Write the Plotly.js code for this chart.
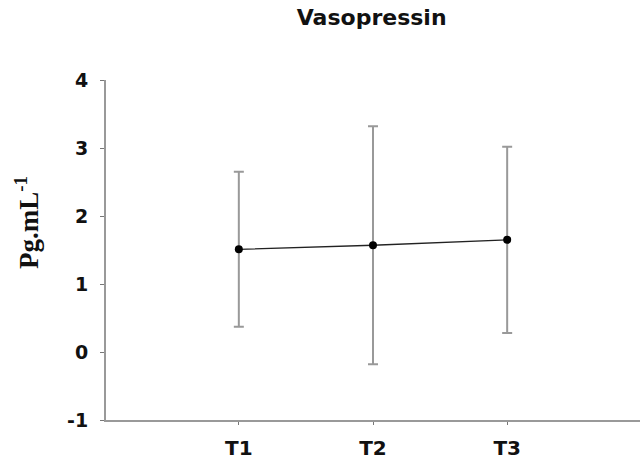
<!DOCTYPE html>
<html>
<head>
<meta charset="utf-8">
<script src="https://cdn.plot.ly/plotly-3.0.1.min.js"></script>
<style>html,body{margin:0;padding:0;background:#fff;}#chart{width:643px;height:461px;}</style>
</head>
<body>
<div id="chart"></div>
<script>
const categories = ["T1", "T2", "T3"];
const means = [1.51, 1.57, 1.65];
const errors = [1.14, 1.75, 1.37];
const yTicks = [-1, 0, 1, 2, 3, 4];
const yTickLabels = ["-1", "0", "1", "2", "3", "4"];

const trace = {
  x: [0, 1, 2],
  y: means,
  type: "scatter",
  mode: "lines+markers",
  line: {color: "#222", width: 1.3},
  marker: {color: "#000", size: 8},
  error_y: {type: "data", array: errors, visible: true, color: "#999", thickness: 2, width: 5},
  hoverinfo: "skip",
  showlegend: false
};

const layout = {
  width: 643, height: 461,
  margin: {l: 106, r: 3, t: 80, b: 41},
  paper_bgcolor: "#fff", plot_bgcolor: "#fff",
  title: {text: "Vasopressin", x: 0.578, xanchor: "center", y: 0.963, yanchor: "middle",
          font: {family: "DejaVu Sans", size: 22, color: "#111", weight: "bold"}},
  xaxis: {
    range: [-0.99, 2.99], tickvals: [0, 1, 2], ticktext: categories,
    showgrid: false, zeroline: false, showline: true, linecolor: "#999", linewidth: 2,
    ticks: "outside", ticklen: 3, tickcolor: "#777", tickwidth: 1, ticklabelstandoff: 6,
    tickfont: {family: "DejaVu Sans", size: 20, color: "#111", weight: "bold"}
  },
  yaxis: {
    range: [-1, 4], tickvals: yTicks, ticktext: yTickLabels,
    showgrid: false, zeroline: false, showline: true, linecolor: "#999", linewidth: 2,
    ticks: "outside", ticklen: 4, tickcolor: "#777", tickwidth: 1, ticklabelstandoff: 8,
    tickfont: {family: "DejaVu Sans", size: 19, color: "#111", weight: "bold"}
  },
  annotations: [{
    text: "Pg.mL<sup>-1</sup>", textangle: -90, showarrow: false,
    xref: "paper", yref: "paper", x: -0.148, y: 0.582, xanchor: "center", yanchor: "middle",
    font: {family: "Liberation Serif", size: 27, color: "#111", weight: "bold"}
  }]
};

Plotly.newPlot("chart", [trace], layout, {staticPlot: true, displayModeBar: false});
</script>
</body>
</html>
